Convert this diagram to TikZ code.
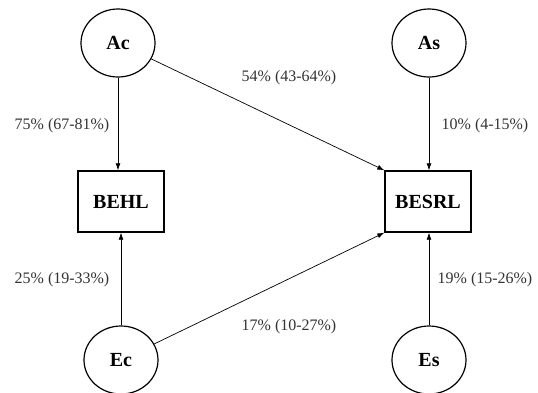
\documentclass[tikz,border=0pt]{standalone}
\usepackage{fontspec}
\setmainfont{Liberation Serif}
\usetikzlibrary{shapes.geometric,arrows.meta}
\begin{document}
\begin{tikzpicture}[x=1pt,y=-1pt,
  latent/.style={ellipse,draw,line width=1.2pt,minimum width=74pt,minimum height=68pt,inner sep=0pt,font=\fontsize{20}{24}\selectfont\bfseries},
  observed/.style={rectangle,draw,line width=1.4pt,minimum width=86pt,minimum height=61pt,inner sep=0pt,font=\fontsize{20}{24}\selectfont\bfseries},
  path/.style={-{Latex[length=7pt,width=5pt]},line width=0.7pt},
  lbl/.style={font=\fontsize{16}{19}\selectfont,text=black!80}]
\useasboundingbox (0,0) rectangle (538,392);
\begin{scope}
\clip (0,0) rectangle (538,392);
\node[latent] (Ac) at (118,43) {Ac};
\node[latent] (As) at (429,43) {As};
\node[observed] (BEHL) at (121,201.5) {BEHL};
\node[observed] (BESRL) at (428,201.5) {BESRL};
\node[latent] (Ec) at (121,360) {Ec};
\node[latent] (Es) at (429,360) {Es};
\draw[path] (Ac) -- (Ac|-BEHL.north);
\draw[path] (Ec) -- (Ec|-BEHL.south);
\draw[path] (As) -- (As|-BESRL.north);
\draw[path] (Es) -- (Es|-BESRL.south);
\draw[path] (Ac) -- (BESRL.north west);
\draw[path] (Ec) -- (BESRL.south west);
\end{scope}
\node[lbl] (l1) at (62,126) {75\% (67-81\%)};
\node[lbl] (l2) at (289,78) {54\% (43-64\%)};
\node[lbl] (l3) at (485,126) {10\% (4-15\%)};
\node[lbl] (l4) at (62,280) {25\% (19-33\%)};
\node[lbl] (l5) at (289,327) {17\% (10-27\%)};
\node[lbl] (l6) at (485,280) {19\% (15-26\%)};
\end{tikzpicture}
\end{document}
